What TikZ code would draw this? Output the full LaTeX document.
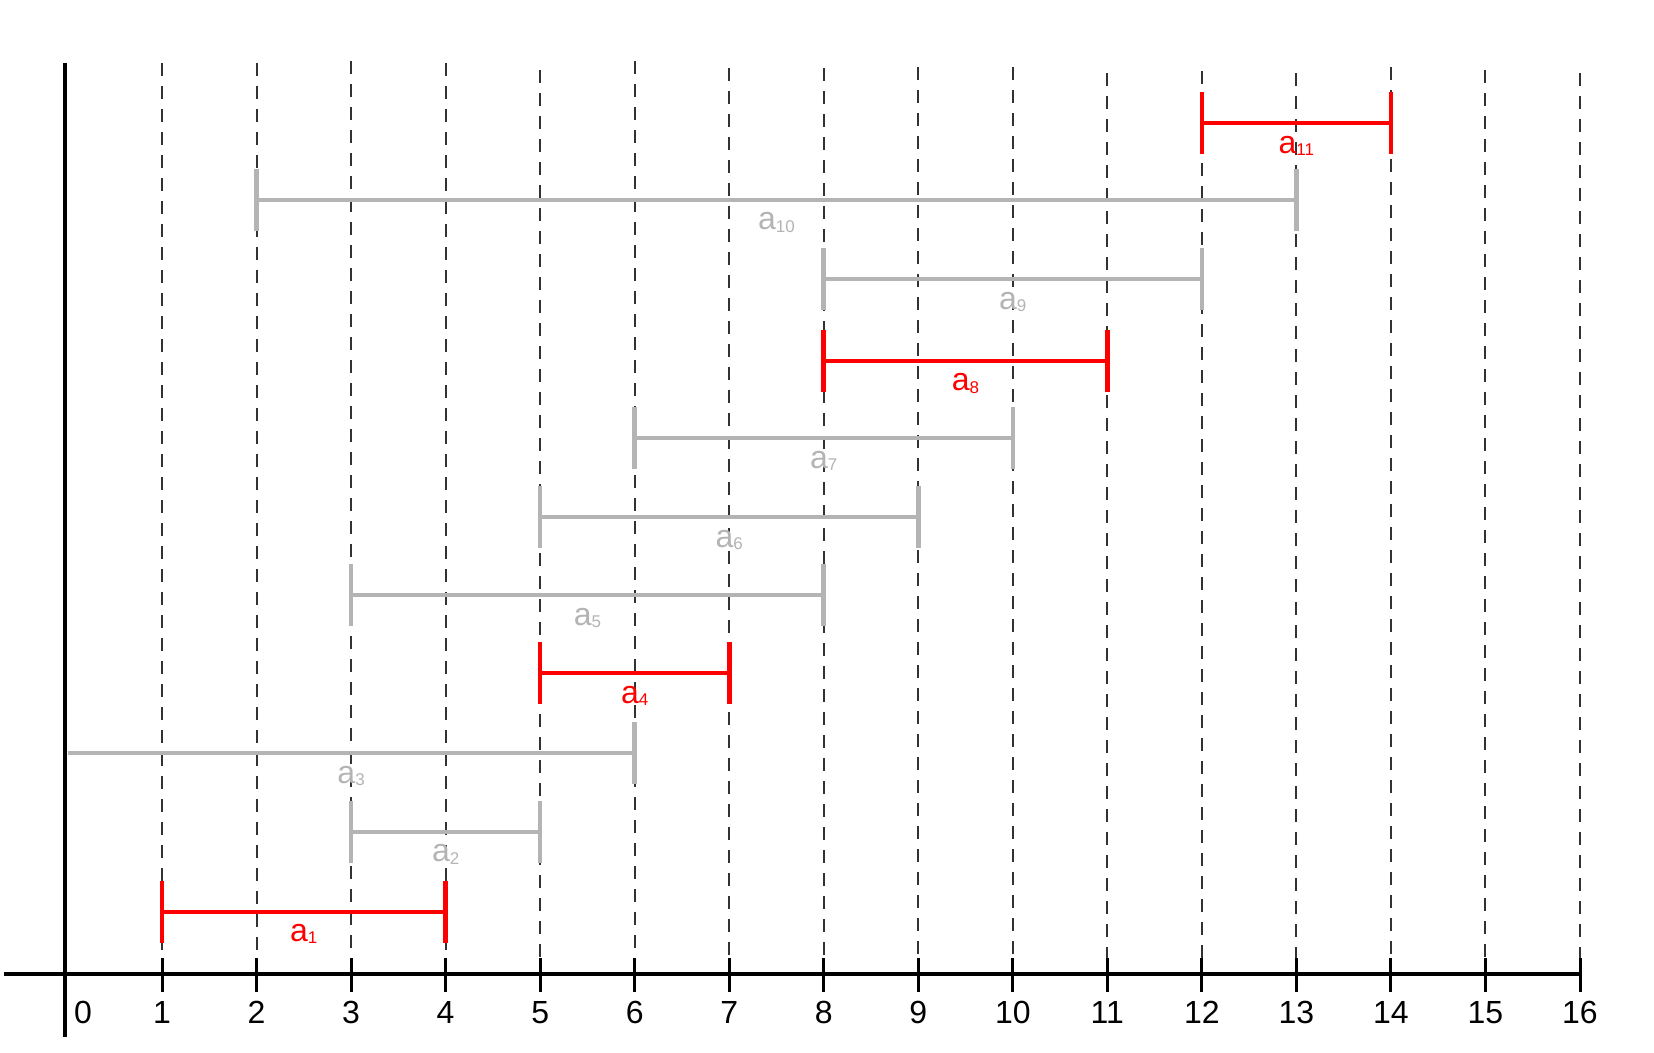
\documentclass[tikz,border=0pt]{standalone}
\usepackage{fontspec}
\setmainfont{Liberation Sans}
\definecolor{ired}{RGB}{255,0,0}
\definecolor{igray}{RGB}{180,180,180}
\definecolor{dashc}{RGB}{50,50,50}
\begin{document}
\begin{tikzpicture}[x=0.5pt,y=-0.5pt,
  gridline/.style={dashc, line width=1pt, dash pattern=on 6.5pt off 5pt},
  bar/.style={draw=#1, line width=2pt},
  capline/.style={line width=2.3pt},
  axisline/.style={black, line width=2pt},
  tickline/.style={black, line width=1.5pt},
  lab/.style={anchor=base, inner sep=0pt, font=\fontsize{16}{19}\selectfont},
  ticklab/.style={anchor=base, inner sep=0pt, font=\fontsize{16}{19}\selectfont}]
\useasboundingbox (0,0) rectangle (1654,1053);
\def\xo{67.5}
\def\dx{94.53}
% grid lines
\foreach \i/\t in {1/63,2/63,3/61,4/63,5/70,6/61,7/68,8/68,9/67,10/67,11/73,12/71,13/73,14/67,15/70,16/73}{
  \coordinate (gt\i) at ({\xo+\dx*\i},\t);
  \coordinate (gb\i) at ({\xo+\dx*\i},974);
  \draw[gridline] (gt\i) -- (gb\i);
}
% intervals
\foreach \k/\s/\e/\y/\c in {1/1/4/911.5/ired, 2/3/5/831.7/igray, 3/0/6/753.3/igray, 4/5/7/673/ired,
  5/3/8/595/igray, 6/5/9/517/igray, 7/6/10/438/igray, 8/8/11/360.7/ired, 9/8/12/279.3/igray,
  10/2/13/200/igray, 11/12/14/123.3/ired}{
  \coordinate (s\k) at ({\xo+\dx*\s},\y);
  \coordinate (e\k) at ({\xo+\dx*\e},\y);
  \coordinate (st\k) at ({\xo+\dx*\s},\y-31);
  \coordinate (sb\k) at ({\xo+\dx*\s},\y+31);
  \coordinate (et\k) at ({\xo+\dx*\e},\y-31);
  \coordinate (eb\k) at ({\xo+\dx*\e},\y+31);
  \draw[bar=\c] (s\k) -- (e\k);
  \ifnum\s>0 \draw[capline, draw=\c] (st\k) -- (sb\k);\fi
  \draw[capline, draw=\c] (et\k) -- (eb\k);
  \node[lab, text=\c] (l\k) at ({\xo+\dx*(\s+\e)/2},\y+30) {a\raisebox{-1.2pt}{\fontsize{8.5}{10}\selectfont\k}};
}
% axes
\coordinate (xl) at (4,974);
\coordinate (xr) at ({\xo+\dx*16},974);
\coordinate (yt) at (64.5,63);
\coordinate (yb) at (64.5,1037);
\draw[axisline] (xl) -- (xr);
\draw[axisline] (yt) -- (yb);
\foreach \i in {1,...,16}{
  \coordinate (tt\i) at ({\xo+\dx*\i},958);
  \coordinate (tb\i) at ({\xo+\dx*\i},992);
  \draw[tickline] (tt\i) -- (tb\i);
  \node[ticklab] (n\i) at ({\xo+\dx*\i},1023) {\i};
}
\node[ticklab] (n0) at (83,1023) {0};
\end{tikzpicture}
\end{document}
